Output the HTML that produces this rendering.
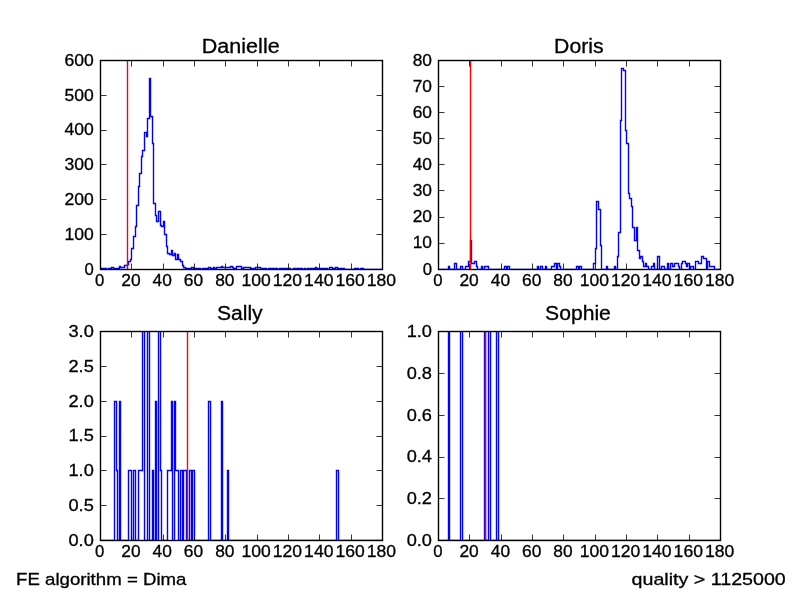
<!DOCTYPE html>
<html><head><meta charset="utf-8"><title>hist</title>
<style>
html,body{margin:0;padding:0;background:#fff;}
body{width:800px;height:600px;overflow:hidden;}
svg{display:block;will-change:transform;}
text{font-family:"Liberation Sans",sans-serif;fill:#000;stroke:#000;stroke-width:0.3px;}
</style></head><body>
<svg width="800" height="600" viewBox="0 0 800 600">
<rect width="800" height="600" fill="#fff"/>
<clipPath id="cDanielle"><rect x="100" y="60" width="282" height="209"/></clipPath>
<g clip-path="url(#cDanielle)"><path d="M100.5 269.5V268.5H102.5H103.5H105.5H106.5V269.5H108.5V268.5H110.5H111.5V267.5H113.5V268.5H114.5H116.5H117.5H119.5V266.5H120.5V267.5H122.5H124.5V265.5H125.5H127.5V264.5H128.5V261.5H130.5V259.5H131.5V248.5H133.5V236.5H135.5V226.5H136.5V205.5H138.5V186.5H139.5V173.5H141.5V156.5H142.5V150.5H144.5V132.5H146.5V136.5H147.5V118.5H149.5V78.5H150.5V116.5H152.5V143.5H153.5V203.5H155.5V215.5H156.5V221.5H158.5V211.5H160.5V225.5H161.5V226.5H163.5V221.5H164.5V234.5H166.5V246.5H167.5V253.5H169.5V254.5H171.5V250.5H172.5V255.5H174.5V253.5H175.5V259.5H177.5V254.5H178.5V259.5H180.5V261.5H182.5V265.5H183.5V267.5H185.5V268.5H186.5H188.5H189.5H191.5V267.5H193.5V268.5H194.5H196.5H197.5H199.5H200.5V269.5H202.5V268.5H203.5H205.5H207.5H208.5V267.5H210.5V268.5H211.5H213.5V267.5H214.5V268.5H216.5V267.5H218.5H219.5H221.5V266.5H222.5V267.5H224.5H225.5H227.5H229.5H230.5V266.5H232.5V267.5H233.5V268.5H235.5H236.5V266.5H238.5H239.5H241.5V268.5H243.5V267.5H244.5H246.5H247.5H249.5H250.5V268.5H252.5H254.5H255.5V267.5H257.5H258.5H260.5V268.5H261.5H263.5H265.5H266.5V269.5H268.5V268.5H269.5H271.5H272.5H274.5H275.5H277.5V269.5H279.5V268.5H280.5H282.5H283.5H285.5H286.5H288.5H290.5V269.5H293.5V268.5H294.5H296.5H297.5H299.5H301.5H302.5V269.5H304.5V268.5H305.5V269.5H307.5V268.5H308.5H310.5H311.5H313.5H315.5V267.5H316.5V268.5H318.5H319.5H321.5H322.5H324.5H326.5H327.5V269.5H329.5V267.5H330.5H332.5V268.5H333.5H335.5V267.5H337.5V268.5H338.5H340.5H341.5H343.5H344.5V269.5H354.5V268.5H355.5H357.5H358.5V269.5H360.5V268.5H362.5H363.5V269.5H382.5" fill="none" stroke="#0000ff" stroke-width="1.39" stroke-linejoin="miter"/>
<path d="M127.5 269V60" stroke="#ff0000" stroke-width="1.39" fill="none"/></g>
<rect x="100.5" y="60.5" width="282.0" height="209.0" fill="none" stroke="#000" stroke-width="1.39"/>
<text x="99.60" y="285.70" text-anchor="middle" font-size="16.7" textLength="9.30" lengthAdjust="spacingAndGlyphs">0</text>
<text x="130.91" y="285.70" text-anchor="middle" font-size="16.7" textLength="19.30" lengthAdjust="spacingAndGlyphs">20</text>
<text x="162.23" y="285.70" text-anchor="middle" font-size="16.7" textLength="19.30" lengthAdjust="spacingAndGlyphs">40</text>
<text x="193.54" y="285.70" text-anchor="middle" font-size="16.7" textLength="19.30" lengthAdjust="spacingAndGlyphs">60</text>
<text x="224.85" y="285.70" text-anchor="middle" font-size="16.7" textLength="19.30" lengthAdjust="spacingAndGlyphs">80</text>
<text x="256.17" y="285.70" text-anchor="middle" font-size="16.7" textLength="29.30" lengthAdjust="spacingAndGlyphs">100</text>
<text x="287.48" y="285.70" text-anchor="middle" font-size="16.7" textLength="29.30" lengthAdjust="spacingAndGlyphs">120</text>
<text x="318.79" y="285.70" text-anchor="middle" font-size="16.7" textLength="29.30" lengthAdjust="spacingAndGlyphs">140</text>
<text x="350.10" y="285.70" text-anchor="middle" font-size="16.7" textLength="29.30" lengthAdjust="spacingAndGlyphs">160</text>
<text x="381.42" y="285.70" text-anchor="middle" font-size="16.7" textLength="29.30" lengthAdjust="spacingAndGlyphs">180</text>
<text x="93.80" y="274.50" text-anchor="end" font-size="16.7" textLength="9.30" lengthAdjust="spacingAndGlyphs">0</text>
<text x="93.80" y="239.71" text-anchor="end" font-size="16.7" textLength="29.30" lengthAdjust="spacingAndGlyphs">100</text>
<text x="93.80" y="204.93" text-anchor="end" font-size="16.7" textLength="29.30" lengthAdjust="spacingAndGlyphs">200</text>
<text x="93.80" y="170.15" text-anchor="end" font-size="16.7" textLength="29.30" lengthAdjust="spacingAndGlyphs">300</text>
<text x="93.80" y="135.37" text-anchor="end" font-size="16.7" textLength="29.30" lengthAdjust="spacingAndGlyphs">400</text>
<text x="93.80" y="100.58" text-anchor="end" font-size="16.7" textLength="29.30" lengthAdjust="spacingAndGlyphs">500</text>
<text x="93.80" y="65.80" text-anchor="end" font-size="16.7" textLength="29.30" lengthAdjust="spacingAndGlyphs">600</text>
<path d="M100.5 269.5v-6.0M100.5 60.5v6.0M131.5 269.5v-6.0M131.5 60.5v6.0M163.5 269.5v-6.0M163.5 60.5v6.0M194.5 269.5v-6.0M194.5 60.5v6.0M225.5 269.5v-6.0M225.5 60.5v6.0M257.5 269.5v-6.0M257.5 60.5v6.0M288.5 269.5v-6.0M288.5 60.5v6.0M319.5 269.5v-6.0M319.5 60.5v6.0M351.5 269.5v-6.0M351.5 60.5v6.0M382.5 269.5v-6.0M382.5 60.5v6.0M100.5 269.5h6.0M382.5 269.5h-6.0M100.5 234.5h6.0M382.5 234.5h-6.0M100.5 199.5h6.0M382.5 199.5h-6.0M100.5 164.5h6.0M382.5 164.5h-6.0M100.5 130.5h6.0M382.5 130.5h-6.0M100.5 95.5h6.0M382.5 95.5h-6.0M100.5 60.5h6.0M382.5 60.5h-6.0" stroke="#000" stroke-width="0.8" fill="none"/>
<text x="240.71" y="53.00" text-anchor="middle" font-size="20.0" textLength="77.94" lengthAdjust="spacingAndGlyphs">Danielle</text>
<clipPath id="cDoris"><rect x="438" y="60" width="282" height="209"/></clipPath>
<g clip-path="url(#cDoris)"><path d="M438.5 269.5H448.5V266.5H449.5V269.5H454.5V263.5H456.5V269.5H460.5V266.5H462.5V269.5H465.5V266.5H468.5V261.5H470.5V240.5H471.5V263.5H474.5V261.5H476.5V266.5H477.5V269.5H481.5V266.5H482.5V269.5H484.5V266.5H488.5V269.5H504.5V266.5H506.5V269.5H507.5V266.5H509.5V269.5H537.5V266.5H538.5V269.5H540.5V266.5H542.5V269.5H545.5V266.5H546.5V269.5H551.5V266.5H554.5V263.5H556.5V269.5H557.5V263.5H559.5V266.5H560.5V269.5H576.5V266.5H578.5V269.5H579.5V266.5H581.5V269.5H593.5V263.5H595.5V248.5H596.5V201.5H598.5V209.5H600.5V245.5H601.5V269.5H606.5V266.5H607.5V269.5H614.5V266.5H615.5V269.5H617.5V256.5H618.5V232.5H620.5V120.5H621.5V68.5H623.5V70.5H625.5V130.5H626.5V143.5H628.5V193.5H629.5V198.5H631.5V206.5H632.5V227.5H634.5V240.5H636.5V227.5H637.5V250.5H639.5V258.5H640.5V256.5H642.5V261.5H643.5V266.5H645.5V263.5H646.5V266.5H648.5V269.5H651.5V266.5H653.5V263.5H654.5V269.5H657.5V256.5H659.5V269.5H661.5V266.5H664.5V269.5H667.5V263.5H668.5V269.5H670.5V263.5H672.5V266.5H674.5V263.5H678.5V266.5H679.5V269.5H681.5V263.5H682.5V261.5H685.5V263.5H686.5V266.5H687.5V263.5H689.5V269.5H690.5V266.5H693.5V269.5H695.5V261.5H698.5V263.5H701.5V256.5H703.5V258.5H706.5V269.5H707.5V261.5H709.5V266.5H714.5V269.5H720.5" fill="none" stroke="#0000ff" stroke-width="1.39" stroke-linejoin="miter"/>
<path d="M470.5 269V60" stroke="#ff0000" stroke-width="1.39" fill="none"/></g>
<rect x="438.5" y="60.5" width="282.0" height="209.0" fill="none" stroke="#000" stroke-width="1.39"/>
<text x="437.78" y="285.70" text-anchor="middle" font-size="16.7" textLength="9.30" lengthAdjust="spacingAndGlyphs">0</text>
<text x="469.10" y="285.70" text-anchor="middle" font-size="16.7" textLength="19.30" lengthAdjust="spacingAndGlyphs">20</text>
<text x="500.41" y="285.70" text-anchor="middle" font-size="16.7" textLength="19.30" lengthAdjust="spacingAndGlyphs">40</text>
<text x="531.72" y="285.70" text-anchor="middle" font-size="16.7" textLength="19.30" lengthAdjust="spacingAndGlyphs">60</text>
<text x="563.03" y="285.70" text-anchor="middle" font-size="16.7" textLength="19.30" lengthAdjust="spacingAndGlyphs">80</text>
<text x="594.35" y="285.70" text-anchor="middle" font-size="16.7" textLength="29.30" lengthAdjust="spacingAndGlyphs">100</text>
<text x="625.66" y="285.70" text-anchor="middle" font-size="16.7" textLength="29.30" lengthAdjust="spacingAndGlyphs">120</text>
<text x="656.97" y="285.70" text-anchor="middle" font-size="16.7" textLength="29.30" lengthAdjust="spacingAndGlyphs">140</text>
<text x="688.29" y="285.70" text-anchor="middle" font-size="16.7" textLength="29.30" lengthAdjust="spacingAndGlyphs">160</text>
<text x="719.60" y="285.70" text-anchor="middle" font-size="16.7" textLength="29.30" lengthAdjust="spacingAndGlyphs">180</text>
<text x="431.98" y="274.50" text-anchor="end" font-size="16.7" textLength="9.30" lengthAdjust="spacingAndGlyphs">0</text>
<text x="431.98" y="248.41" text-anchor="end" font-size="16.7" textLength="19.30" lengthAdjust="spacingAndGlyphs">10</text>
<text x="431.98" y="222.32" text-anchor="end" font-size="16.7" textLength="19.30" lengthAdjust="spacingAndGlyphs">20</text>
<text x="431.98" y="196.24" text-anchor="end" font-size="16.7" textLength="19.30" lengthAdjust="spacingAndGlyphs">30</text>
<text x="431.98" y="170.15" text-anchor="end" font-size="16.7" textLength="19.30" lengthAdjust="spacingAndGlyphs">40</text>
<text x="431.98" y="144.06" text-anchor="end" font-size="16.7" textLength="19.30" lengthAdjust="spacingAndGlyphs">50</text>
<text x="431.98" y="117.97" text-anchor="end" font-size="16.7" textLength="19.30" lengthAdjust="spacingAndGlyphs">60</text>
<text x="431.98" y="91.89" text-anchor="end" font-size="16.7" textLength="19.30" lengthAdjust="spacingAndGlyphs">70</text>
<text x="431.98" y="65.80" text-anchor="end" font-size="16.7" textLength="19.30" lengthAdjust="spacingAndGlyphs">80</text>
<path d="M438.5 269.5v-6.0M438.5 60.5v6.0M469.5 269.5v-6.0M469.5 60.5v6.0M501.5 269.5v-6.0M501.5 60.5v6.0M532.5 269.5v-6.0M532.5 60.5v6.0M563.5 269.5v-6.0M563.5 60.5v6.0M595.5 269.5v-6.0M595.5 60.5v6.0M626.5 269.5v-6.0M626.5 60.5v6.0M657.5 269.5v-6.0M657.5 60.5v6.0M689.5 269.5v-6.0M689.5 60.5v6.0M720.5 269.5v-6.0M720.5 60.5v6.0M438.5 269.5h6.0M720.5 269.5h-6.0M438.5 243.5h6.0M720.5 243.5h-6.0M438.5 217.5h6.0M720.5 217.5h-6.0M438.5 190.5h6.0M720.5 190.5h-6.0M438.5 164.5h6.0M720.5 164.5h-6.0M438.5 138.5h6.0M720.5 138.5h-6.0M438.5 112.5h6.0M720.5 112.5h-6.0M438.5 86.5h6.0M720.5 86.5h-6.0M438.5 60.5h6.0M720.5 60.5h-6.0" stroke="#000" stroke-width="0.8" fill="none"/>
<text x="578.89" y="53.00" text-anchor="middle" font-size="20.0" textLength="49.50" lengthAdjust="spacingAndGlyphs">Doris</text>
<clipPath id="cSally"><rect x="100" y="331" width="282" height="209"/></clipPath>
<g clip-path="url(#cSally)"><path d="M100.5 540.5H114.5V401.5H116.5V470.5H117.5V540.5H119.5V401.5H120.5V540.5H128.5V470.5H131.5V540.5H133.5V470.5H135.5V540.5H138.5V470.5H142.5V331.5H144.5V540.5H147.5V331.5H149.5V540.5H152.5V470.5H153.5V540.5H155.5V401.5H156.5V540.5H158.5V331.5H160.5V470.5H161.5V540.5H167.5V470.5H171.5V401.5H172.5V540.5H174.5V401.5H175.5V470.5H178.5V540.5H180.5V470.5H182.5V540.5H183.5V470.5H186.5V540.5H189.5V470.5H191.5V540.5H192.5V470.5H194.5V540.5H208.5V401.5H210.5V540.5H221.5V401.5H222.5V540.5H227.5V470.5H228.5V540.5H336.5V470.5H338.5V540.5H382.5" fill="none" stroke="#0000ff" stroke-width="1.39" stroke-linejoin="miter"/>
<path d="M187.5 540V331" stroke="#ff0000" stroke-width="1.39" fill="none"/></g>
<rect x="100.5" y="331.5" width="282.0" height="209.0" fill="none" stroke="#000" stroke-width="1.39"/>
<text x="99.60" y="556.70" text-anchor="middle" font-size="16.7" textLength="9.30" lengthAdjust="spacingAndGlyphs">0</text>
<text x="130.91" y="556.70" text-anchor="middle" font-size="16.7" textLength="19.30" lengthAdjust="spacingAndGlyphs">20</text>
<text x="162.23" y="556.70" text-anchor="middle" font-size="16.7" textLength="19.30" lengthAdjust="spacingAndGlyphs">40</text>
<text x="193.54" y="556.70" text-anchor="middle" font-size="16.7" textLength="19.30" lengthAdjust="spacingAndGlyphs">60</text>
<text x="224.85" y="556.70" text-anchor="middle" font-size="16.7" textLength="19.30" lengthAdjust="spacingAndGlyphs">80</text>
<text x="256.17" y="556.70" text-anchor="middle" font-size="16.7" textLength="29.30" lengthAdjust="spacingAndGlyphs">100</text>
<text x="287.48" y="556.70" text-anchor="middle" font-size="16.7" textLength="29.30" lengthAdjust="spacingAndGlyphs">120</text>
<text x="318.79" y="556.70" text-anchor="middle" font-size="16.7" textLength="29.30" lengthAdjust="spacingAndGlyphs">140</text>
<text x="350.10" y="556.70" text-anchor="middle" font-size="16.7" textLength="29.30" lengthAdjust="spacingAndGlyphs">160</text>
<text x="381.42" y="556.70" text-anchor="middle" font-size="16.7" textLength="29.30" lengthAdjust="spacingAndGlyphs">180</text>
<text x="93.80" y="545.80" text-anchor="end" font-size="16.7" textLength="25.30" lengthAdjust="spacingAndGlyphs">0.0</text>
<text x="93.80" y="511.02" text-anchor="end" font-size="16.7" textLength="25.30" lengthAdjust="spacingAndGlyphs">0.5</text>
<text x="93.80" y="476.23" text-anchor="end" font-size="16.7" textLength="25.30" lengthAdjust="spacingAndGlyphs">1.0</text>
<text x="93.80" y="441.45" text-anchor="end" font-size="16.7" textLength="25.30" lengthAdjust="spacingAndGlyphs">1.5</text>
<text x="93.80" y="406.67" text-anchor="end" font-size="16.7" textLength="25.30" lengthAdjust="spacingAndGlyphs">2.0</text>
<text x="93.80" y="371.89" text-anchor="end" font-size="16.7" textLength="25.30" lengthAdjust="spacingAndGlyphs">2.5</text>
<text x="93.80" y="337.10" text-anchor="end" font-size="16.7" textLength="25.30" lengthAdjust="spacingAndGlyphs">3.0</text>
<path d="M100.5 540.5v-6.0M100.5 331.5v6.0M131.5 540.5v-6.0M131.5 331.5v6.0M163.5 540.5v-6.0M163.5 331.5v6.0M194.5 540.5v-6.0M194.5 331.5v6.0M225.5 540.5v-6.0M225.5 331.5v6.0M257.5 540.5v-6.0M257.5 331.5v6.0M288.5 540.5v-6.0M288.5 331.5v6.0M319.5 540.5v-6.0M319.5 331.5v6.0M351.5 540.5v-6.0M351.5 331.5v6.0M382.5 540.5v-6.0M382.5 331.5v6.0M100.5 540.5h6.0M382.5 540.5h-6.0M100.5 505.5h6.0M382.5 505.5h-6.0M100.5 470.5h6.0M382.5 470.5h-6.0M100.5 436.5h6.0M382.5 436.5h-6.0M100.5 401.5h6.0M382.5 401.5h-6.0M100.5 366.5h6.0M382.5 366.5h-6.0M100.5 331.5h6.0M382.5 331.5h-6.0" stroke="#000" stroke-width="0.8" fill="none"/>
<text x="239.81" y="320.20" text-anchor="middle" font-size="20.0" textLength="45.74" lengthAdjust="spacingAndGlyphs">Sally</text>
<clipPath id="cSophie"><rect x="438" y="331" width="282" height="209"/></clipPath>
<g clip-path="url(#cSophie)"><path d="M438.5 540.5H448.5V331.5H449.5V540.5H460.5V331.5H462.5V540.5H484.5V331.5H485.5V540.5H488.5V331.5H490.5V540.5H496.5V331.5H498.5V540.5H720.5" fill="none" stroke="#0000ff" stroke-width="1.39" stroke-linejoin="miter"/>
<path d="M485.5 540V331" stroke="#ff0000" stroke-width="1.39" fill="none"/></g>
<rect x="438.5" y="331.5" width="282.0" height="209.0" fill="none" stroke="#000" stroke-width="1.39"/>
<text x="437.78" y="556.70" text-anchor="middle" font-size="16.7" textLength="9.30" lengthAdjust="spacingAndGlyphs">0</text>
<text x="469.10" y="556.70" text-anchor="middle" font-size="16.7" textLength="19.30" lengthAdjust="spacingAndGlyphs">20</text>
<text x="500.41" y="556.70" text-anchor="middle" font-size="16.7" textLength="19.30" lengthAdjust="spacingAndGlyphs">40</text>
<text x="531.72" y="556.70" text-anchor="middle" font-size="16.7" textLength="19.30" lengthAdjust="spacingAndGlyphs">60</text>
<text x="563.03" y="556.70" text-anchor="middle" font-size="16.7" textLength="19.30" lengthAdjust="spacingAndGlyphs">80</text>
<text x="594.35" y="556.70" text-anchor="middle" font-size="16.7" textLength="29.30" lengthAdjust="spacingAndGlyphs">100</text>
<text x="625.66" y="556.70" text-anchor="middle" font-size="16.7" textLength="29.30" lengthAdjust="spacingAndGlyphs">120</text>
<text x="656.97" y="556.70" text-anchor="middle" font-size="16.7" textLength="29.30" lengthAdjust="spacingAndGlyphs">140</text>
<text x="688.29" y="556.70" text-anchor="middle" font-size="16.7" textLength="29.30" lengthAdjust="spacingAndGlyphs">160</text>
<text x="719.60" y="556.70" text-anchor="middle" font-size="16.7" textLength="29.30" lengthAdjust="spacingAndGlyphs">180</text>
<text x="431.98" y="545.80" text-anchor="end" font-size="16.7" textLength="25.30" lengthAdjust="spacingAndGlyphs">0.0</text>
<text x="431.98" y="504.06" text-anchor="end" font-size="16.7" textLength="25.30" lengthAdjust="spacingAndGlyphs">0.2</text>
<text x="431.98" y="462.32" text-anchor="end" font-size="16.7" textLength="25.30" lengthAdjust="spacingAndGlyphs">0.4</text>
<text x="431.98" y="420.58" text-anchor="end" font-size="16.7" textLength="25.30" lengthAdjust="spacingAndGlyphs">0.6</text>
<text x="431.98" y="378.84" text-anchor="end" font-size="16.7" textLength="25.30" lengthAdjust="spacingAndGlyphs">0.8</text>
<text x="431.98" y="337.10" text-anchor="end" font-size="16.7" textLength="25.30" lengthAdjust="spacingAndGlyphs">1.0</text>
<path d="M438.5 540.5v-6.0M438.5 331.5v6.0M469.5 540.5v-6.0M469.5 331.5v6.0M501.5 540.5v-6.0M501.5 331.5v6.0M532.5 540.5v-6.0M532.5 331.5v6.0M563.5 540.5v-6.0M563.5 331.5v6.0M595.5 540.5v-6.0M595.5 331.5v6.0M626.5 540.5v-6.0M626.5 331.5v6.0M657.5 540.5v-6.0M657.5 331.5v6.0M689.5 540.5v-6.0M689.5 331.5v6.0M720.5 540.5v-6.0M720.5 331.5v6.0M438.5 540.5h6.0M720.5 540.5h-6.0M438.5 498.5h6.0M720.5 498.5h-6.0M438.5 457.5h6.0M720.5 457.5h-6.0M438.5 415.5h6.0M720.5 415.5h-6.0M438.5 373.5h6.0M720.5 373.5h-6.0M438.5 331.5h6.0M720.5 331.5h-6.0" stroke="#000" stroke-width="0.8" fill="none"/>
<text x="577.99" y="320.20" text-anchor="middle" font-size="20.0" textLength="65.78" lengthAdjust="spacingAndGlyphs">Sophie</text>
<text x="16.00" y="584.50" text-anchor="start" font-size="16.7" textLength="170.49" lengthAdjust="spacingAndGlyphs">FE algorithm = Dima</text>
<text x="785.80" y="584.50" text-anchor="end" font-size="16.7" textLength="154.25" lengthAdjust="spacingAndGlyphs">quality &gt; 1125000</text>
</svg>
</body></html>
